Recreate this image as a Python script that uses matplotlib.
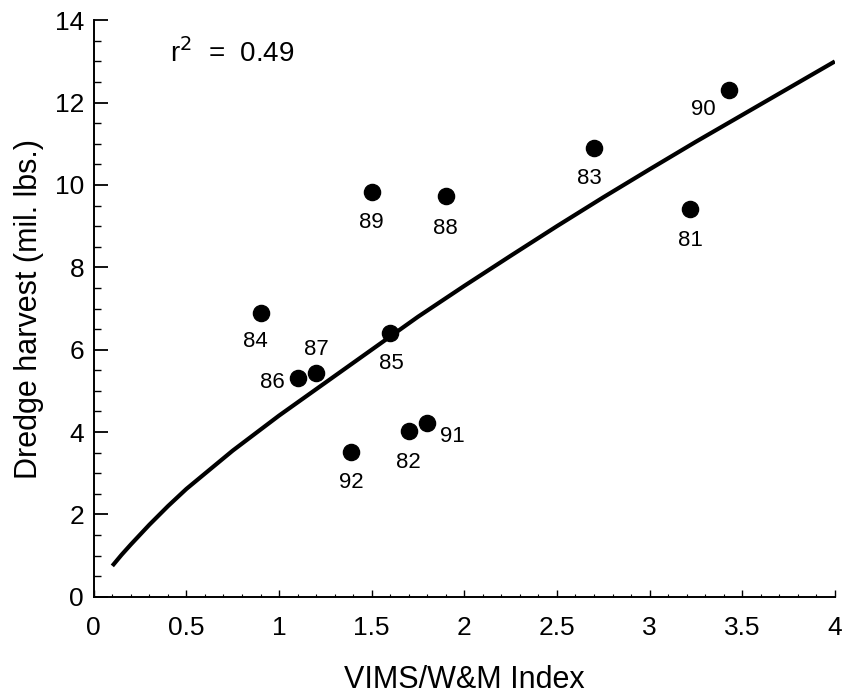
import matplotlib
import numpy as np
from matplotlib import pyplot as plt
from matplotlib.ticker import MultipleLocator

matplotlib.use("Agg")

plt.rcParams["font.family"] = ["Liberation Sans", "DejaVu Sans"]

# dredge harvest vs index, one point per year
years = ["81", "82", "83", "84", "85", "86", "87", "88", "89", "90", "91", "92"]
index = [3.22, 1.70, 2.70, 0.90, 1.60, 1.10, 1.20, 1.90, 1.50, 3.43, 1.80, 1.39]
harvest = [9.42, 4.03, 10.9, 6.90, 6.41, 5.31, 5.43, 9.73, 9.82, 12.3, 4.22, 3.52]

# label offsets (points) from each dot
label_dx = [0, 0, -3, -4, 1, -18, 0, 0, 0, -19, 18, 0]
label_dy = [-23, -23, -22, -21, -22, -3, 17, -23, -22, -14, -10, -22]

# fitted curve
curve_x = [0.1, 0.15, 0.2, 0.3, 0.4, 0.5, 0.75, 1.0, 1.25, 1.5, 1.75, 2.0,
           2.25, 2.5, 2.75, 3.0, 3.25, 3.5, 3.75, 4.0]
curve_y = [0.75, 1.02, 1.27, 1.75, 2.2, 2.62, 3.55, 4.4, 5.2, 6.0, 6.8, 7.55,
           8.28, 9.0, 9.7, 10.38, 11.05, 11.7, 12.35, 13.0]

fig = plt.figure(figsize=(8.45, 6.98), dpi=100)
ax = fig.add_axes([0.111, 0.145, 0.877, 0.826])

ax.plot(curve_x, curve_y, color="black", lw=3.0, solid_capstyle="butt")
ax.scatter(index, harvest, s=135, color="black", zorder=3)
for yr, x, y, dx, dy in zip(years, index, harvest, label_dx, label_dy):
    ax.annotate(yr, (x, y), xytext=(dx, dy), textcoords="offset points",
                ha="center", va="center", fontsize=16)

ax.text(0.103, 0.943, "r$^2$  =  0.49", transform=ax.transAxes, fontsize=20,
        ha="left", va="center")

ax.set_xlim(0, 4)
ax.set_ylim(0, 14)
ax.xaxis.set_major_locator(MultipleLocator(0.5))
ax.xaxis.set_minor_locator(MultipleLocator(0.1))
ax.yaxis.set_major_locator(MultipleLocator(2))
ax.yaxis.set_minor_locator(MultipleLocator(0.5))
ax.set_xticks(np.arange(0, 4.01, 0.5))
ax.set_xticklabels(["0", "0.5", "1", "1.5", "2", "2.5", "3", "3.5", "4"])

ax.spines["top"].set_visible(False)
ax.spines["right"].set_visible(False)
ax.spines["left"].set_linewidth(1.4)
ax.spines["bottom"].set_linewidth(1.4)

ax.tick_params(axis="y", which="major", direction="in", length=10, width=1.3,
               pad=7, labelsize=19)
ax.tick_params(axis="y", which="minor", direction="in", length=5, width=1.0)
ax.tick_params(axis="x", which="major", direction="in", length=5, width=1.0,
               pad=14, labelsize=19)
ax.tick_params(axis="x", which="minor", direction="in", length=2.5, width=0.8)

ax.set_xlabel("VIMS/W&M Index", fontsize=22, labelpad=18)
ax.set_ylabel("Dredge harvest (mil. lbs.)", fontsize=22, labelpad=8)

fig.savefig("out.png", dpi=100)
